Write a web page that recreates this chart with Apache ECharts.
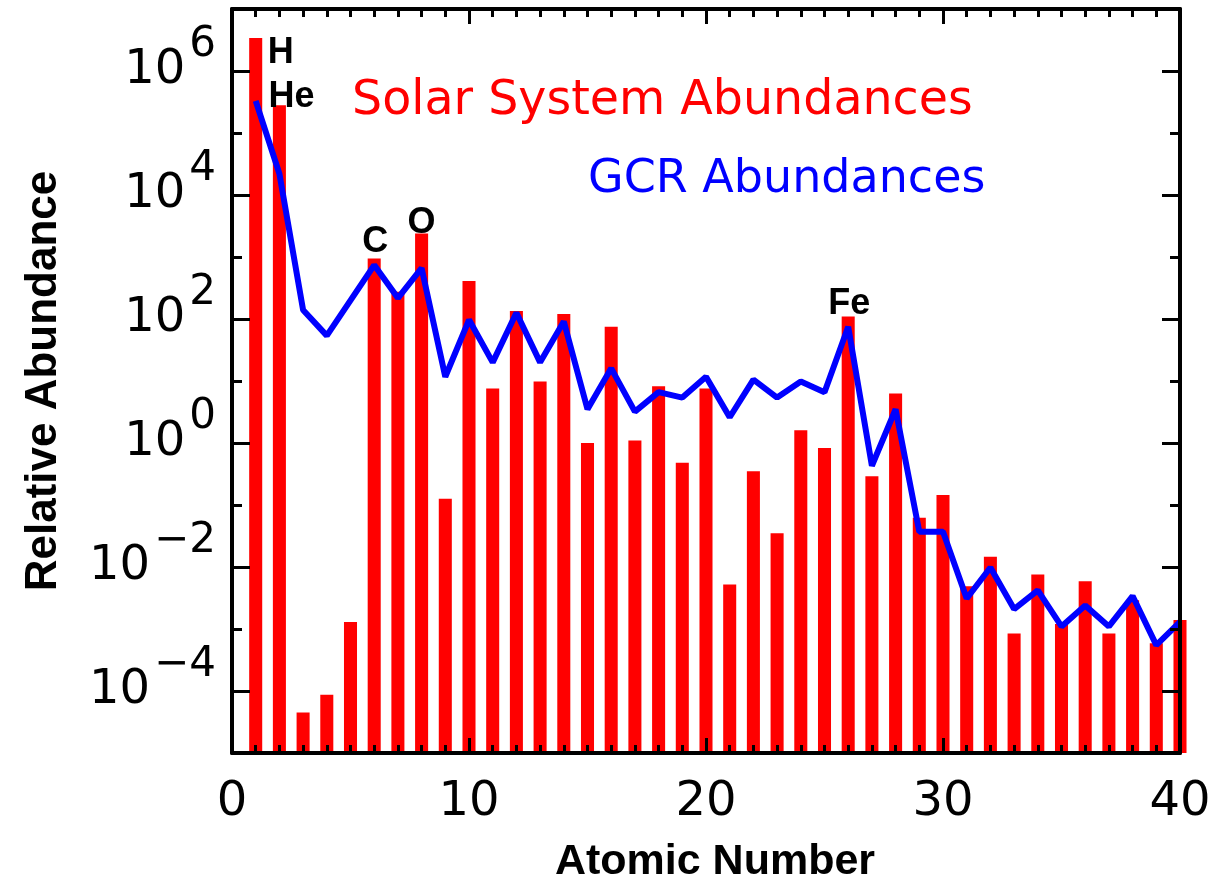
<!DOCTYPE html>
<html><head><meta charset="utf-8">
<script src="https://cdn.jsdelivr.net/npm/echarts@6/dist/echarts.min.js"></script>
<style>html,body{margin:0;padding:0;background:#fff}#c{width:1231px;height:881px}</style>
</head><body><div id="c"></div>
<script>
// ---- data ----
const atomicNumbers = [1,2,3,4,5,6,7,8,9,10,11,12,13,14,15,16,17,18,19,20,21,22,23,24,25,26,27,28,29,30,31,32,33,34,35,36,37,38,39,40];
const solarAbundances = [3.4e6,2.8e5,4.5e-5,8.7e-5,1.3e-3,950,275,2400,0.126,410,
  7.6,135,9.8,120,1.0,75,1.1,8.2,0.48,7.6,
  5.2e-3,0.35,0.035,1.6,0.83,110,0.29,6.3,0.062,0.145,
  4.9e-3,0.0147,8.5e-4,7.6e-3,1.2e-3,5.9e-3,8.5e-4,2.9e-3,5.9e-4,1.4e-3];
const gcrAbundances = [3.3e5,2.2e4,140,54,200,740,218,660,11.7,97,
  20,126,20,91,3.5,16,3.2,6.6,5.4,11.7,
  2.6,10.5,5.4,9.8,6.6,75,0.43,3.5,0.037,0.037,
  3.1e-3,9.8e-3,2.1e-3,4.2e-3,1.1e-3,2.4e-3,1.1e-3,3.4e-3,5.5e-4,1.3e-3];
const xTickValues = [0,10,20,30,40];
const yLabelExponents = [-4,-2,0,2,4,6];
const yMajorTickExponents = [-4,-2,0,2,4,6];
const annotationSymbols = ['H','He','C','O','Fe'];
const annotationNumbers = [1,2,6,8,26];

const Y_MIN = 1e-5, Y_MAX = 1e7;
const NUM_FONT = 'DejaVu Sans';
const BOLD_FONT = 'Liberation Sans, Arial, sans-serif';

const chart = echarts.init(document.getElementById('c'), null, {renderer:'canvas'});

function yLabel(v){
  const e = Math.round(Math.log10(v));
  if (yLabelExponents.indexOf(e) < 0) return '';
  return '{b|10}{s|' + (e < 0 ? '\u2212' + (-e) : String(e)) + '}';
}

const baseY = {
  type:'log', min:Y_MIN, max:Y_MAX, interval:1,
  axisLine:{show:true, lineStyle:{color:'#000', width:4}},
  splitLine:{show:false}, minorTick:{show:false}
};
// decorative axis in exponent space, used only to draw the longer major ticks
const majorTickAxis = {
  type:'value', min:Math.log10(Y_MIN), max:Math.log10(Y_MAX), interval:1,
  axisLine:{show:false}, splitLine:{show:false}, axisLabel:{show:false}, z:10,
  axisTick:{show:true, inside:true, length:18, customValues:yMajorTickExponents, lineStyle:{color:'#000', width:3}}
};

// label placement relative to the bar top (styling only)
const annotationStyle = {
  H:  {dx:12,  dy:15,  align:'left'},
  He: {dx:-11, dy:-8,  align:'left'},
  C:  {dx:1,   dy:-16, align:'center'},
  O:  {dx:0,   dy:-10, align:'center'},
  Fe: {dx:1,   dy:-12, align:'center'}
};

const option = {
  animation:false,
  backgroundColor:'#fff',
  grid:{left:232, right:51, top:9, bottom:128, containLabel:false, outerBoundsMode:'none'},
  xAxis:[
    {type:'value', position:'bottom', min:0, max:40, interval:10, z:10,
     axisLine:{show:true, onZero:false, lineStyle:{color:'#000', width:4}},
     axisTick:{show:true, inside:true, length:15, lineStyle:{color:'#000', width:3}},
     minorTick:{show:true, splitNumber:10, length:8, lineStyle:{color:'#000', width:3}},
     splitLine:{show:false}, minorSplitLine:{show:false},
     axisLabel:{show:true, margin:26, fontSize:48, fontFamily:NUM_FONT, color:'#000',
       formatter:function(v){ return xTickValues.indexOf(v) >= 0 ? String(v) : ''; }},
     name:'Atomic Number', nameLocation:'middle', nameGap:88,
     nameTextStyle:{fontSize:43, fontWeight:'bold', fontFamily:BOLD_FONT, color:'#000', padding:[0,0,0,18]}
    },
    {type:'value', position:'top', min:0, max:40, interval:10, z:10,
     axisLine:{show:true, onZero:false, lineStyle:{color:'#000', width:4}},
     axisTick:{show:true, inside:true, length:15, lineStyle:{color:'#000', width:3}},
     minorTick:{show:true, splitNumber:10, length:8, lineStyle:{color:'#000', width:3}},
     splitLine:{show:false}, minorSplitLine:{show:false}, axisLabel:{show:false}
    }
  ],
  yAxis:[
    Object.assign({}, baseY, {position:'left', z:10,
      axisTick:{show:true, inside:true, length:10, lineStyle:{color:'#000', width:3}},
      axisLabel:{show:true, margin:16, color:'#000', formatter:yLabel,
        rich:{
          b:{fontSize:48, lineHeight:48, fontFamily:NUM_FONT, color:'#000'},
          s:{fontSize:42, lineHeight:42, fontFamily:NUM_FONT, color:'#000', padding:[0,0,52,4]}
        }},
      name:'Relative Abundance', nameLocation:'middle', nameGap:166,
      nameTextStyle:{fontSize:44, fontWeight:'bold', fontFamily:BOLD_FONT, color:'#000'}
    }),
    Object.assign({}, majorTickAxis, {position:'left'}),
    Object.assign({}, baseY, {position:'right', z:10,
      axisTick:{show:true, inside:true, length:10, lineStyle:{color:'#000', width:3}},
      axisLabel:{show:false}
    }),
    Object.assign({}, majorTickAxis, {position:'right'})
  ],
  graphic:[
    {type:'text', left:352, top:78, z:20,
     style:{text:'Solar System Abundances', fill:'#ff0000', font:'47.5px "DejaVu Sans"'}},
    {type:'text', left:588, top:157, z:20,
     style:{text:'GCR Abundances', fill:'#0000ff', font:'46px "DejaVu Sans"'}}
  ],
  series:[
    {name:'Solar System Abundances', type:'custom', xAxisIndex:0, yAxisIndex:0, z:2,
     data: atomicNumbers.map((z,i)=>[z, solarAbundances[i]]),
     renderItem:function(params, api){
       const z = api.value(0), v = api.value(1);
       const top = api.coord([z, v]);
       const base = api.coord([z, Y_MIN]);
       const w = (api.coord([z+0.5, v])[0] - api.coord([z-0.5, v])[0]) * 0.55;
       return {type:'rect', shape:{x:top[0]-w/2, y:top[1], width:w, height:base[1]-top[1]},
               style:{fill:'#ff0000'}};
     }
    },
    {name:'GCR Abundances', type:'line', xAxisIndex:0, yAxisIndex:0, z:3,
     data: atomicNumbers.map((z,i)=>[z, gcrAbundances[i]]),
     showSymbol:false, symbol:'none',
     lineStyle:{color:'#0000ff', width:6}
    },
    {name:'Element labels', type:'custom', xAxisIndex:0, yAxisIndex:0, z:5, silent:true,
     data: annotationSymbols.map((s,i)=>[annotationNumbers[i], solarAbundances[annotationNumbers[i]-1], i]),
     renderItem:function(params, api){
       const p = api.coord([api.value(0), api.value(1)]);
       const s = annotationSymbols[api.value(2)];
       const st = annotationStyle[s];
       return {type:'text', x:p[0]+st.dx, y:p[1]+st.dy,
               style:{text:s, fill:'#000', font:'bold 36px "Liberation Sans", Arial, sans-serif',
                      align:st.align, verticalAlign:'middle'}};
     }
    }
  ]
};
chart.setOption(option);
</script></body></html>
